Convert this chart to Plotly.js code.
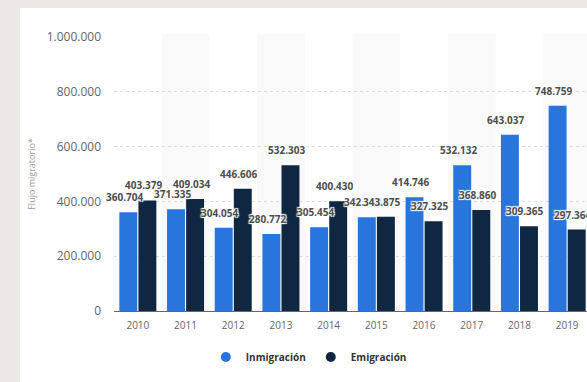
<!DOCTYPE html>
<html>
<head>
<meta charset="utf-8">
<script src="https://cdn.plot.ly/plotly-3.0.1.min.js"></script>
<style>
html,body{margin:0;padding:0;width:587px;height:382px;overflow:hidden;background:#ebe8e5;}
#card{position:absolute;left:20px;top:8px;width:600px;height:400px;background:#ffffff;}
#chart{position:absolute;left:0;top:0;width:600px;height:382px;}
</style>
</head>
<body>
<div id="card"></div>
<div id="chart"></div>
<script>
const years = ['2010','2011','2012','2013','2014','2015','2016','2017','2018','2019'];
const inmigracion = [360704, 371335, 304054, 280772, 305454, 342114, 414746, 532132, 643037, 748759];
const emigracion = [403379, 409034, 446606, 532303, 400430, 343875, 327325, 368860, 309365, 297364];
const yTicks = [0, 200000, 400000, 600000, 800000, 1000000];
const yTickText = ['0', '200.000', '400.000', '600.000', '800.000', '1.000.000'];

const BLUE = '#2876dd';
const NAVY = '#0f2741';

function fmt(v){ return String(v).replace(/\B(?=(\d{3})+(?!\d))/g, '.'); }

const traces = [
  {type:'bar', name:'Inmigración', x:years, y:inmigracion, marker:{color:BLUE}, showlegend:false, hoverinfo:'skip'},
  {type:'bar', name:'Emigración', x:years, y:emigracion, marker:{color:NAVY}, showlegend:false, hoverinfo:'skip'},
  {type:'scatter', mode:'markers', name:'Inmigración', x:[years[0]], y:[null], marker:{color:BLUE, size:10, symbol:'circle'}, showlegend:true},
  {type:'scatter', mode:'markers', name:'Emigración', x:[years[0]], y:[null], marker:{color:NAVY, size:10, symbol:'circle'}, showlegend:true}
];

const shapes = [];
years.forEach((y, i) => {
  if (i % 2 === 1) {
    shapes.push({type:'rect', xref:'x', yref:'paper', x0:i-0.5, x1:i+0.5, y0:0, y1:1.01,
      fillcolor:'#f9f9f9', line:{width:0}, layer:'below'});
  }
});

const annotations = [];
const labelFont = {family:'Open Sans, sans-serif', size:10, color:'#4d4d4d', weight:700, shadow:'1px 1px 1px #ffffff, -1px -1px 1px #ffffff, 1px -1px 1px #ffffff, -1px 1px 1px #ffffff'};
years.forEach((yr, i) => {
  annotations.push({x:i, y:inmigracion[i], xref:'x', yref:'y', text:fmt(inmigracion[i]), showarrow:false,
    xshift:-13.5, yshift:15, yanchor:'middle', font:labelFont});
  annotations.push({x:i, y:emigracion[i], xref:'x', yref:'y', text:fmt(emigracion[i]), showarrow:false,
    xshift:5.5, yshift:15, yanchor:'middle', font:labelFont});
});

const layout = {
  width:600, height:382,
  margin:{l:114, r:9, t:37, b:71},
  paper_bgcolor:'rgba(0,0,0,0)',
  plot_bgcolor:'rgba(0,0,0,0)',
  barmode:'group',
  bargap:0.2,
  bargroupgap:0.06,
  font:{family:'Open Sans, sans-serif', color:'#666'},
  xaxis:{
    type:'category', categoryorder:'array', categoryarray:years, range:[-0.5, 9.5], autorange:false,
    tickfont:{size:10, color:'#666'}, showgrid:false,
    showline:true, linecolor:'#666', linewidth:1, ticks:'', ticklabelstandoff:5,
    fixedrange:true
  },
  yaxis:{
    range:[0, 1000000], autorange:false, tickvals:yTicks, ticktext:yTickText,
    tickfont:{size:12, color:'#666'}, showgrid:true, gridcolor:'#dcdcdc', griddash:'dot', gridwidth:1,
    zeroline:false, showline:false, ticks:'', ticklabelstandoff:12,
    title:{text:'Flujo migratorio*', font:{size:9, color:'#999'}, standoff:9},
    fixedrange:true
  },
  shapes:shapes,
  annotations:annotations,
  showlegend:true,
  legend:{orientation:'h', xref:'container', yref:'container', x:0.343, xanchor:'left', y:(382-357)/382, yanchor:'middle',
    font:{size:10, color:'#333', weight:700}, bgcolor:'rgba(0,0,0,0)'}
};

Plotly.newPlot('chart', traces, layout, {displayModeBar:false, staticPlot:true});
</script>
</body>
</html>
